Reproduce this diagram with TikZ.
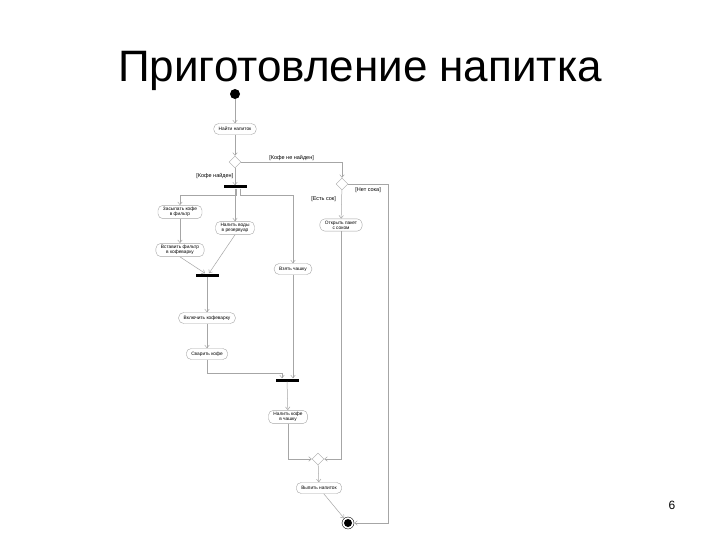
\documentclass[tikz,border=0pt]{standalone}
\usepackage{fontspec}
\setmainfont{Liberation Sans}
\usetikzlibrary{arrows.meta,shapes.geometric}

\begin{document}
\begin{tikzpicture}[
  x=1pt, y=-1pt,
  act/.style={rectangle, rounded corners=5pt, draw=gray!70, fill=white, align=center,
    inner xsep=5pt, inner ysep=1.8pt, minimum height=11pt, font=\fontsize{4.8}{5.3}\selectfont},
  bar/.style={rectangle, fill=black, minimum width=23pt, minimum height=3pt, inner sep=0pt},
  choice/.style={diamond, draw=gray!70, fill=white, minimum size=12pt, inner sep=0pt},
  guard/.style={font=\fontsize{5.5}{6}\selectfont, inner sep=1.5pt},
  flow/.style={draw=gray!70, line width=0.5pt, -{Straight Barb[length=2.8pt,width=4.5pt]}}
]
\useasboundingbox[fill=white] (0,0) rectangle (720,540);

\node[font=\fontsize{44}{48}\selectfont] (title) at (360,71) {Приготовление напитка};
\node[font=\fontsize{12}{14}\selectfont] (page) at (672,505) {6};

\node[circle, fill=black, minimum size=10pt, inner sep=0pt] (start) at (235,94) {};
\node[act] (find) at (235,129) {Найти напиток};
\node[choice] (coffee) at (235,162) {};
\node[bar] (fork) at (235,187) {};
\node[act] (filter) at (180,212) {Засыпать кофе\\в фильтр};
\node[act] (water) at (235,228) {Налить воды\\в резервуар};
\node[act] (cup) at (293,269) {Взять чашку};
\node[act] (insert) at (180,250) {Вставить фильтр\\в кофеварку};
\node[bar] (join) at (207,275) {};
\node[act] (turnon) at (207,318) {Включить кофеварку};
\node[act] (brew) at (207,354) {Сварить кофе};
\node[bar] (sync) at (287,380) {};
\node[act] (pour) at (288,417) {Налить кофе\\в чашку};
\node[choice] (juiceq) at (342,184) {};
\node[act] (juice) at (341,225) {Открыть пакет\\с соком};
\node[choice] (merge) at (318,459) {};
\node[act] (drink) at (319,488) {Выпить напиток};
\node[circle, draw, minimum size=12pt, inner sep=0pt] (stop) at (348,523) {};
\fill (stop.center) circle (4pt);

\draw[flow] (start) -- (find);
\draw[flow] (find) -- (coffee);
\draw[flow] (coffee) -- node[guard, left, pos=0.45] {[Кофе найден]} (fork);
\draw[flow] (coffee.east) -| node[guard, above, pos=0.25] {[Кофе не найден]} (juiceq.north);
\draw[flow] ([xshift=1pt]fork.south) -- ++(0,7) -| (filter.north);
\draw[flow] (fork.south) -- (water.north);
\draw[flow] ([xshift=5pt]fork.south) -- ++(0,7) -| (cup.north);
\draw[flow] (filter) -- (insert);
\draw[flow] (insert.south) -- ([xshift=-2pt]join.north);
\draw[flow] (water.south) -- ([xshift=2pt]join.north);
\draw[flow] (join) -- (turnon);
\draw[flow] (turnon) -- (brew);
\draw[flow] (brew.south) -- ++(0,14) -| ([xshift=-5pt]sync.north);
\draw[flow] (cup.south) -- (cup.south |- sync.north);
\draw[flow] (sync) -- (pour);
\draw[flow] (pour.south) |- (merge.west);
\draw[flow] (juiceq) -- node[guard, left, pos=0.3, xshift=-4pt] {[Есть сок]} (juice);
\draw[flow] (juiceq.east) -- node[guard, below, yshift=-2pt] {[Нет сока]} (388,184) |- (stop.east);
\draw[flow] (juice.south) |- (merge.east);
\draw[flow] (merge) -- (drink);
\draw[flow] (drink) -- (stop);
\end{tikzpicture}
\end{document}
